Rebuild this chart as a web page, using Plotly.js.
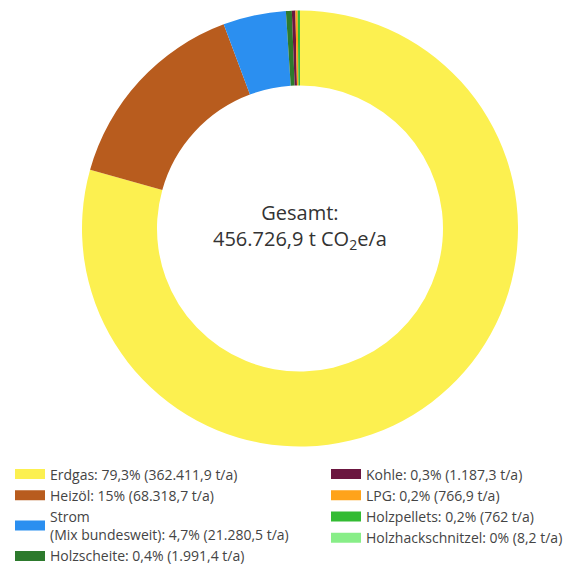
<!DOCTYPE html>
<html>
<head>
<meta charset="utf-8">
<script src="https://cdn.plot.ly/plotly-3.0.1.min.js"></script>
<style>html,body{margin:0;padding:0;background:#fff;overflow:hidden;}#chart{width:586px;height:574px;}</style>
</head>
<body>
<div id="chart"></div>
<script>
const categories = ["Erdgas", "Heizöl", "Strom<br>(Mix bundesweit)", "Holzscheite", "Kohle", "LPG", "Holzpellets", "Holzhackschnitzel"];
const values = [362411.9, 68318.7, 21280.5, 1991.4, 1187.3, 766.9, 762, 8.2];
const percentLabels = ["79,3%", "15%", "4,7%", "0,4%", "0,3%", "0,2%", "0,2%", "0%"];
const amountLabels = ["362.411,9", "68.318,7", "21.280,5", "1.991,4", "1.187,3", "766,9", "762", "8,2"];
const colors = ["#fcf050", "#b85c1e", "#2b8ff0", "#2d7a2d", "#6b1640", "#ffa31a", "#33bb33", "#88ee88"];
const totalLabel = "456.726,9";

const W = 586, H = 574;
const FONT = "Open Sans, sans-serif";
const traces = [{
  type: "pie",
  labels: categories,
  values: values,
  sort: false,
  direction: "clockwise",
  rotation: 0,
  hole: 0.656,
  textinfo: "none",
  hoverinfo: "label+value",
  marker: {colors: colors, line: {width: 0}},
  showlegend: false,
  domain: {x: [82 / W, 518 / W], y: [1 - 446.5 / H, 1 - 10.5 / H]}
}];
// legend entries (two columns)
categories.forEach((c, i) => {
  traces.push({
    type: "scatter", mode: "lines", x: [null], y: [null],
    name: c + ": " + percentLabels[i] + " (" + amountLabels[i] + " t/a)",
    line: {color: colors[i], width: 11},
    legend: i < 4 ? "legend" : "legend2",
    hoverinfo: "skip"
  });
});

const legendCommon = {
  orientation: "v", xanchor: "left", yanchor: "top",
  font: {family: FONT, size: 14, color: "#444"},
  bgcolor: "rgba(0,0,0,0)", itemclick: false, itemdoubleclick: false,
  tracegroupgap: 0
};
const layout = {
  width: W, height: H,
  margin: {l: 0, r: 0, t: 0, b: 0},
  paper_bgcolor: "#fff", plot_bgcolor: "#fff",
  xaxis: {visible: false}, yaxis: {visible: false},
  legend: Object.assign({x: 10 / W, y: 1 - 458.5 / H}, legendCommon),
  legend2: Object.assign({x: 326 / W, y: 1 - 458.5 / H}, legendCommon),
  annotations: [{
    xref: "paper", yref: "paper", x: 300 / W, y: 1 - 226 / H,
    xanchor: "center", yanchor: "middle", showarrow: false,
    text: "Gesamt:<br>" + totalLabel + " t CO<sub>2</sub>e/a",
    font: {family: FONT, size: 20, color: "#333", weight: 500}
  }]
};
Plotly.newPlot("chart", traces, layout, {displayModeBar: false, staticPlot: true});
</script>
</body>
</html>
